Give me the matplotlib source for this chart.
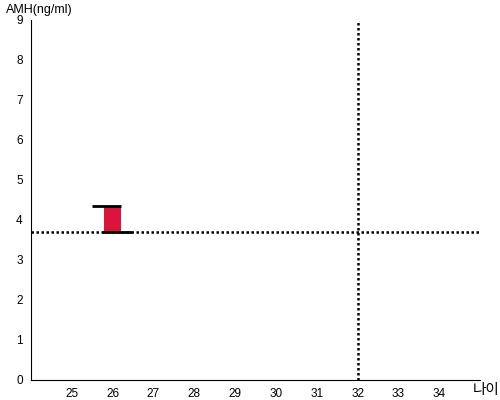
import matplotlib
matplotlib.use("Agg")
import matplotlib.pyplot as plt

# 데이터
나이_눈금 = [25, 26, 27, 28, 29, 30, 31, 32, 33, 34]
amh_눈금 = [0, 1, 2, 3, 4, 5, 6, 7, 8, 9]
막대_나이 = [26]
막대_하단 = [3.7]
막대_상단 = [4.35]
기준_amh = 3.7
기준_나이 = 32

plt.rcParams['font.family'] = ['Liberation Sans', 'Noto Sans CJK KR', 'DejaVu Sans']

fig = plt.figure(figsize=(5, 4), dpi=100)
ax = fig.add_axes([0.062, 0.05, 0.898, 0.9])

# 막대 (하단~상단)
for x, lo, hi in zip(막대_나이, 막대_하단, 막대_상단):
    ax.bar(x, hi - lo, bottom=lo, width=0.4, color='#dc143c', zorder=2)
    ax.hlines(hi, x - 0.5, x + 0.2, color='black', linewidth=2, zorder=3)
    ax.hlines(lo, x - 0.25, x + 0.47, color='black', linewidth=2, zorder=3)

# 기준선
ax.axhline(기준_amh, color='black', linestyle=(0, (1, 1)), linewidth=1.8, zorder=1)
ax.axvline(기준_나이, color='black', linestyle=(0, (1, 1)), linewidth=1.8, zorder=1)

ax.set_xlim(24, 35)
ax.set_ylim(0, 9)
ax.set_xticks(나이_눈금)
ax.set_yticks(amh_눈금)
ax.tick_params(length=0, labelsize=8.5, pad=6)
ax.spines['top'].set_visible(False)
ax.spines['right'].set_visible(False)

fig.text(0.012, 0.975, 'AMH(ng/ml)', fontsize=9, va='center', ha='left')
fig.text(0.998, 0.025, '나이', fontsize=10.5, va='center', ha='right',
         family=['Noto Sans CJK KR', 'DejaVu Sans'])

fig.savefig('out.png', dpi=100)
